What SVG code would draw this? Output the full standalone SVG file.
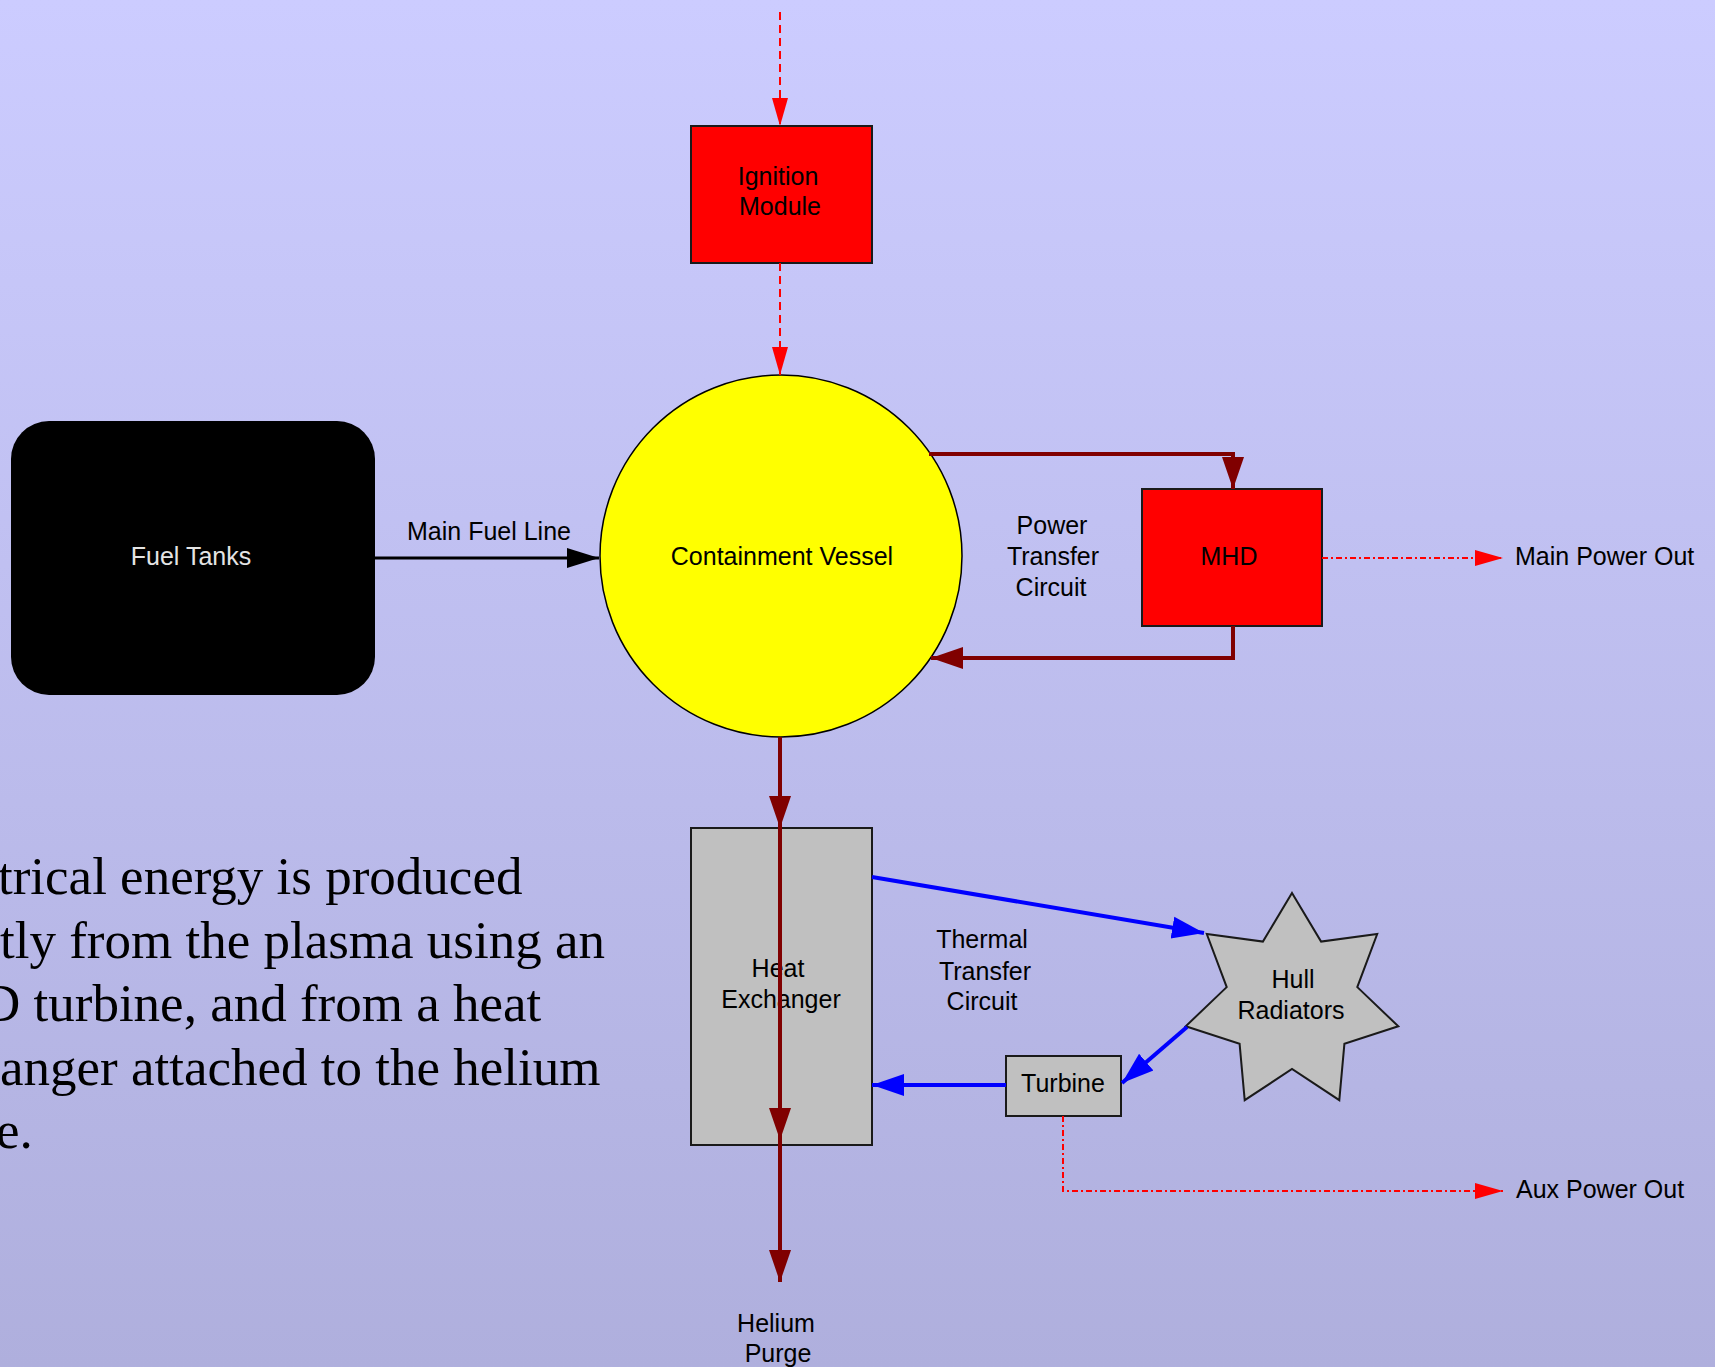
<svg xmlns="http://www.w3.org/2000/svg" width="1715" height="1367" viewBox="0 0 1715 1367">
<defs>
<linearGradient id="bg" x1="0" y1="0" x2="0" y2="1">
<stop offset="0" stop-color="#ccccff"/>
<stop offset="1" stop-color="#afafdd"/>
</linearGradient>
<marker id="aDark" markerUnits="userSpaceOnUse" markerWidth="34" markerHeight="26" refX="32" refY="13" orient="auto">
<path d="M0,2 L32,13 L0,24 Z" fill="#800000"/>
</marker>
<marker id="aBlack" markerUnits="userSpaceOnUse" markerWidth="34" markerHeight="24" refX="32" refY="12" orient="auto">
<path d="M0,2 L32,12 L0,22 Z" fill="#000000"/>
</marker>
<marker id="aBlue" markerUnits="userSpaceOnUse" markerWidth="34" markerHeight="26" refX="32" refY="13" orient="auto">
<path d="M0,2 L32,13 L0,24 Z" fill="#0000ff"/>
</marker>
<marker id="aRed" markerUnits="userSpaceOnUse" markerWidth="30" markerHeight="20" refX="28" refY="10" orient="auto">
<path d="M0,2 L28,10 L0,18 Z" fill="#ff0000"/>
</marker>
</defs>
<style>
.lbl{font-family:"Liberation Sans",Arial,sans-serif;font-size:25px;fill:#000;text-anchor:middle}
.lbll{font-family:"Liberation Sans",Arial,sans-serif;font-size:25px;fill:#000;text-anchor:start}
.body{font-family:"Liberation Serif","Times New Roman",serif;font-size:53px;fill:#000}
.box{stroke:#1a1a1a;stroke-width:2}
.dark{fill:none;stroke:#800000;stroke-width:4}
.blue{fill:none;stroke:#0000ff;stroke-width:4}
.reddot{fill:none;stroke:#ff0000;stroke-width:2;stroke-dasharray:6 3 2 3}
</style>
<rect x="0" y="0" width="1715" height="1367" fill="url(#bg)"/>

<g id="body-text">
<text class="body" x="-2" y="894">trical energy is produced</text>
<text class="body" x="0" y="958">tly from the plasma using an</text>
<text class="body" x="-18" y="1021">D turbine, and from a heat</text>
<text class="body" x="0" y="1085">anger attached to the helium</text>
<text class="body" x="-4" y="1148">e.</text>
</g>

<g id="ignition-module">
<rect class="box" x="691" y="126" width="181" height="137" fill="#ff0000"/>
<text class="lbl" x="778" y="185">Ignition</text>
<text class="lbl" x="780" y="215">Module</text>
</g>

<g id="fuel-tanks">
<rect x="11" y="421" width="364" height="274" rx="38" ry="38" fill="#000000"/>
<text class="lbl" x="191" y="565" style="fill:#e4e4e4">Fuel Tanks</text>
</g>

<g id="containment-vessel">
<circle cx="781" cy="556" r="181" fill="#ffff00" stroke="#000" stroke-width="1.5"/>
<text class="lbl" x="782" y="565">Containment Vessel</text>
</g>

<g id="mhd">
<rect class="box" x="1142" y="489" width="180" height="137" fill="#ff0000"/>
<text class="lbl" x="1229" y="565">MHD</text>
</g>

<g id="heat-exchanger">
<rect class="box" x="691" y="828" width="181" height="317" fill="#c0c0c0"/>
<text class="lbl" x="778" y="977">Heat</text>
<text class="lbl" x="781" y="1008">Exchanger</text>
</g>

<g id="hull-radiators">
<polygon points="1292,893 1321.1,941.6 1377.2,934 1357.3,987.1 1398.3,1026.3 1344.4,1043.8 1339.3,1100.2 1292,1069 1244.7,1100.2 1239.6,1043.8 1185.7,1026.3 1226.7,987.1 1206.8,934 1262.9,941.6" fill="#c0c0c0" stroke="#1a1a1a" stroke-width="2"/>
<text class="lbl" x="1293" y="988">Hull</text>
<text class="lbl" x="1291" y="1019">Radiators</text>
</g>

<g id="turbine">
<rect class="box" x="1006" y="1056" width="115" height="60" fill="#c0c0c0"/>
<text class="lbl" x="1063" y="1092">Turbine</text>
</g>

<g id="connectors">
<line class="reddot" x1="780" y1="12" x2="780" y2="126" marker-end="url(#aRed)" style="stroke-dasharray:8 5"/>
<line class="reddot" x1="780" y1="263" x2="780" y2="375" marker-end="url(#aRed)" style="stroke-dasharray:8 5"/>
<line x1="375" y1="558" x2="599" y2="558" stroke="#000" stroke-width="3" marker-end="url(#aBlack)"/>
<polyline class="dark" points="929,454 1233,454 1233,489" marker-end="url(#aDark)"/>
<polyline class="dark" points="1233,626 1233,658 931,658" marker-end="url(#aDark)"/>
<line class="reddot" x1="1322" y1="558" x2="1503" y2="558" marker-end="url(#aRed)"/>
<line class="dark" x1="780" y1="737" x2="780" y2="828" marker-end="url(#aDark)"/>
<line class="dark" x1="780" y1="828" x2="780" y2="1140" marker-end="url(#aDark)"/>
<line class="dark" x1="780" y1="1140" x2="780" y2="1282" marker-end="url(#aDark)"/>
<line class="blue" x1="872" y1="877" x2="1204" y2="933" marker-end="url(#aBlue)"/>
<line class="blue" x1="1187" y1="1027" x2="1122" y2="1083" marker-end="url(#aBlue)"/>
<line class="blue" x1="1006" y1="1085" x2="872" y2="1085" marker-end="url(#aBlue)"/>
<polyline class="reddot" points="1063,1116 1063,1191 1503,1191" marker-end="url(#aRed)"/>
<text class="lbl" x="489" y="540">Main Fuel Line</text>
<text class="lbl" x="1052" y="534">Power</text>
<text class="lbl" x="1053" y="565">Transfer</text>
<text class="lbl" x="1051" y="596">Circuit</text>
<text class="lbll" x="1515" y="565">Main Power Out</text>
<text class="lbl" x="982" y="948">Thermal</text>
<text class="lbl" x="985" y="980">Transfer</text>
<text class="lbl" x="982" y="1010">Circuit</text>
<text class="lbll" x="1516" y="1198">Aux Power Out</text>
<text class="lbl" x="776" y="1332">Helium</text>
<text class="lbl" x="778" y="1362">Purge</text>
</g>
</svg>
